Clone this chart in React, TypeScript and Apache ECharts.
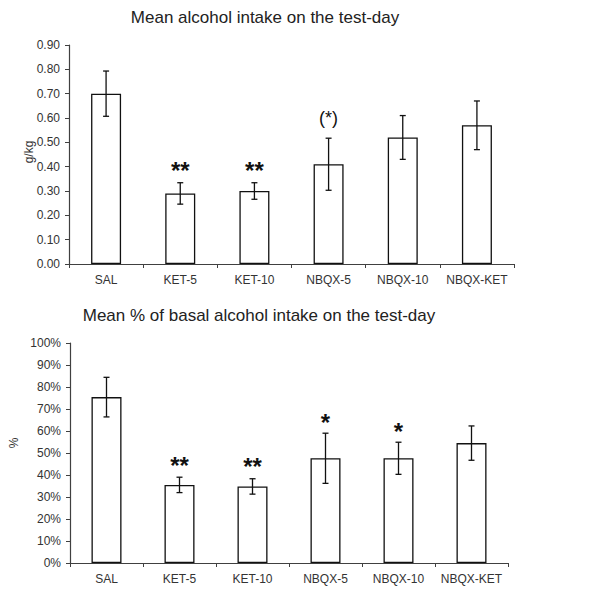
import React, { useEffect, useRef } from "react";
import * as echarts from "echarts";

const categories = ["SAL", "KET-5", "KET-10", "NBQX-5", "NBQX-10", "NBQX-KET"];

const intakeMeans = [0.70, 0.29, 0.30, 0.41, 0.52, 0.57];
const intakeErrors = [0.093, 0.044, 0.034, 0.107, 0.09, 0.10];
const intakeMarks = ["", "**", "**", "(*)", "", ""];
const intakeTicks = { min: 0, max: 0.9, interval: 0.1 };

const basalMeans = [75.4, 35.5, 34.8, 47.6, 47.6, 54.5];
const basalErrors = [9.0, 3.5, 3.5, 11.4, 7.3, 7.8];
const basalMarks = ["", "**", "**", "*", "*", ""];
const basalTicks = { min: 0, max: 100, interval: 10 };

const titles = [
  "Mean alcohol intake on the test-day",
  "Mean % of basal alcohol intake on the test-day",
];
const yNames = ["g/kg", "%"];

const FONT = "'Liberation Sans', Arial, sans-serif";
const AXIS = "#404040";
const TEXT = "#333333";

function errorRender(params: any, api: any) {
  const x = api.value(0);
  const lo = api.value(1);
  const hi = api.value(2);
  const pHi = api.coord([x, hi]);
  const pLo = api.coord([x, lo]);
  const hw = 3;
  const st = { stroke: "#111", lineWidth: 1.3 };
  return {
    type: "group",
    children: [
      { type: "line", shape: { x1: pHi[0], y1: pHi[1], x2: pLo[0], y2: pLo[1] }, style: st },
      { type: "line", shape: { x1: pHi[0] - hw, y1: pHi[1], x2: pHi[0] + hw, y2: pHi[1] }, style: st },
      { type: "line", shape: { x1: pLo[0] - hw, y1: pLo[1], x2: pLo[0] + hw, y2: pLo[1] }, style: st },
    ],
  };
}

function markRender(marks: string[]) {
  return (params: any, api: any) => {
    const i = api.value(0);
    const hi = api.value(1);
    const txt = marks[i];
    if (!txt) return null;
    const p = api.coord([i, hi]);
    const paren = txt.indexOf("(") >= 0;
    const gap = paren ? 20 : txt.length === 2 ? 12 : 11;
    return {
      type: "text",
      x: p[0],
      y: p[1] - gap,
      style: {
        text: txt,
        fontFamily: FONT,
        fontSize: paren ? 18 : 24,
        fontWeight: paren ? "normal" : "bold",
        fill: "#111",
        align: "center",
        verticalAlign: "middle",
      },
    };
  };
}

function buildPanel(idx: number, means: number[], errs: number[], marks: string[], ticks: any, fmt: (v: number) => string) {
  const xAxis = {
    type: "category",
    gridIndex: idx,
    data: categories,
    axisLine: { lineStyle: { color: AXIS, width: 1.2 } },
    axisTick: { show: true, length: 4, lineStyle: { color: AXIS }, alignWithLabel: false, interval: 0 },
    axisLabel: { color: TEXT, fontFamily: FONT, fontSize: 12, margin: 10, interval: 0 },
  };
  const yAxis = {
    type: "value",
    gridIndex: idx,
    min: ticks.min,
    max: ticks.max,
    interval: ticks.interval,
    axisLine: { show: true, lineStyle: { color: AXIS, width: 1.2 } },
    axisTick: { show: true, length: 4, lineStyle: { color: AXIS } },
    splitLine: { show: false },
    axisLabel: { color: TEXT, fontFamily: FONT, fontSize: 12, margin: 9, formatter: fmt },
  };
  const series = [
    {
      type: "bar",
      xAxisIndex: idx,
      yAxisIndex: idx,
      data: means,
      barWidth: 30,
      itemStyle: { color: "#ffffff", borderColor: "#111", borderWidth: 1.3 },
      silent: true,
    },
    {
      type: "custom",
      xAxisIndex: idx,
      yAxisIndex: idx,
      data: means.map((m, i) => [i, m - errs[i], m + errs[i]]),
      renderItem: errorRender,
      z: 5,
    },
    {
      type: "custom",
      xAxisIndex: idx,
      yAxisIndex: idx,
      data: means.map((m, i) => [i, m + errs[i]]),
      renderItem: markRender(marks),
      z: 6,
    },
  ];
  return { xAxis, yAxis, series };
}

export default function App() {
  const ref = useRef<HTMLDivElement>(null);
  useEffect(() => {
    document.body.style.margin = "0";
    if (!ref.current) return;
    const chart = echarts.init(ref.current, null, { renderer: "svg" });
    const p1 = buildPanel(0, intakeMeans, intakeErrors, intakeMarks, intakeTicks, (v) => v.toFixed(2));
    const p2 = buildPanel(1, basalMeans, basalErrors, basalMarks, basalTicks, (v) => Math.round(v) + "%");
    const titleStyle = { fontFamily: FONT, fontSize: 17, fill: "#222", align: "center", verticalAlign: "middle" };
    const nameStyle = { fontFamily: FONT, fontSize: 12, fill: TEXT, align: "center", verticalAlign: "middle" };
    chart.setOption({
      animation: false,
      backgroundColor: "#ffffff",
      grid: [
        { left: 69, top: 45, width: 445, height: 219 },
        { left: 70, top: 343, width: 438, height: 220 },
      ],
      xAxis: [p1.xAxis, p2.xAxis],
      yAxis: [p1.yAxis, p2.yAxis],
      series: [...p1.series, ...p2.series],
      graphic: [
        { type: "text", x: 265, y: 17, style: { ...titleStyle, text: titles[0] } },
        { type: "text", x: 259, y: 315, style: { ...titleStyle, text: titles[1] } },
        { type: "text", x: 29, y: 152, rotation: Math.PI / 2, style: { ...nameStyle, text: yNames[0] } },
        { type: "text", x: 14, y: 443, rotation: Math.PI / 2, style: { ...nameStyle, text: yNames[1] } },
      ],
    });
    return () => chart.dispose();
  }, []);
  return <div ref={ref} style={{ width: 604, height: 593 }} />;
}
